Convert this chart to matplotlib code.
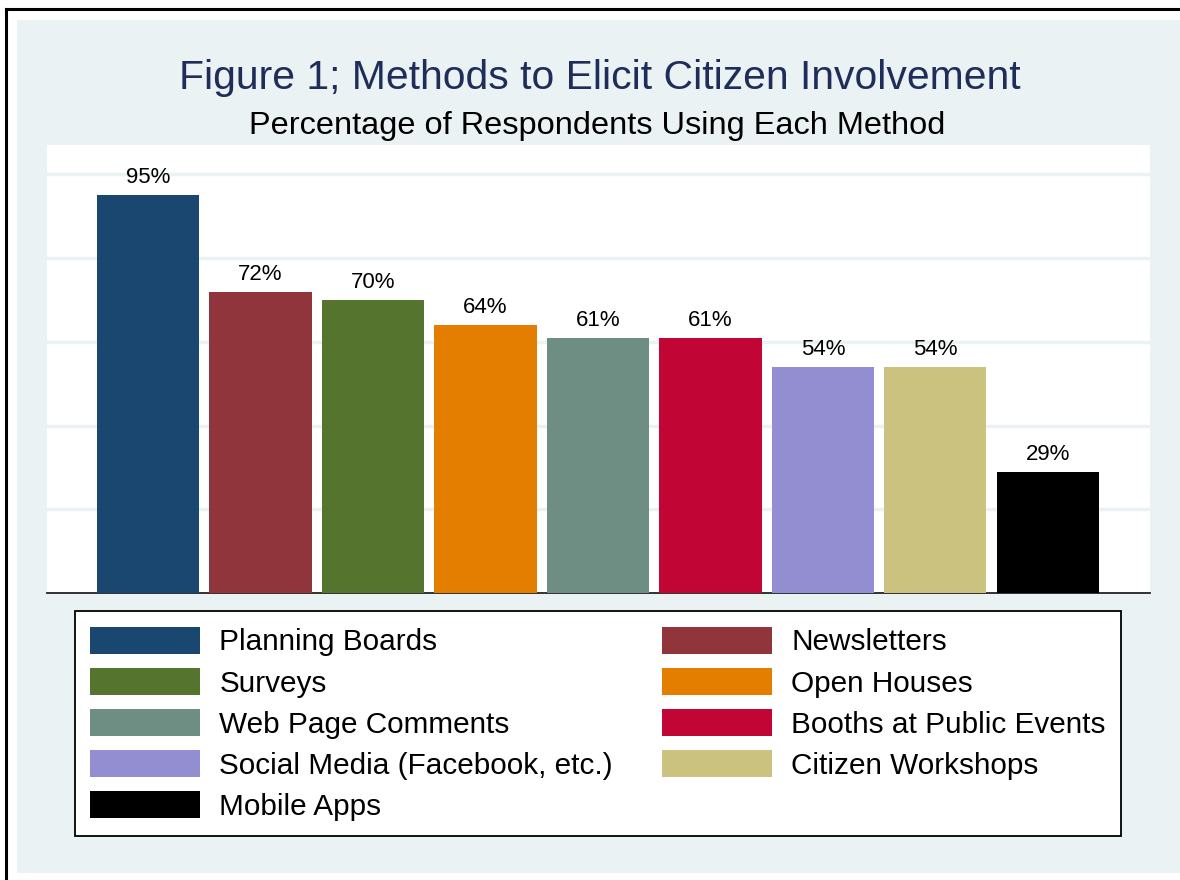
import numpy as np
import matplotlib
matplotlib.use("Agg")
import matplotlib.pyplot as plt
from matplotlib.patches import Rectangle
from matplotlib.lines import Line2D

plt.rcParams['font.family'] = ['Liberation Sans', 'DejaVu Sans']

# data
methods = ['Planning Boards', 'Newsletters', 'Surveys', 'Open Houses',
           'Web Page Comments', 'Booths at Public Events',
           'Social Media (Facebook, etc.)', 'Citizen Workshops', 'Mobile Apps']
pct = [95, 72, 70, 64, 61, 61, 54, 54, 29]
colors = ['#1a476f', '#90353b', '#55752f', '#e37e00', '#6e8e84',
          '#c10534', '#938dd2', '#cac27e', '#000000']

W, H = 1180, 880
bg = '#eaf2f3'

fig = plt.figure(figsize=(W / 100, H / 100), dpi=100)
fig.patch.set_facecolor('white')

# outer frame (top + left visible) and graph region
fig.add_artist(Line2D([6 / W, 6 / W], [0, 1 - 9 / H], color='black', lw=2.2,
                      transform=fig.transFigure))
fig.add_artist(Line2D([6 / W, 1], [1 - 9 / H, 1 - 9 / H], color='black', lw=2.2,
                      transform=fig.transFigure))
fig.add_artist(Rectangle((17 / W, 1 - 873 / H), 1, (873 - 20) / H,
                         facecolor=bg, edgecolor='none', transform=fig.transFigure,
                         zorder=-1))

ax = fig.add_axes([47 / W, 1 - 593 / H, (1150 - 47) / W, (593 - 145) / H])
ax.set_facecolor('white')

x = np.arange(len(pct))
bars = []
for i in range(len(pct)):
    b = ax.bar(x[i], pct[i], width=0.907, color=colors[i], label=methods[i], zorder=3)
    bars.append(b)
    ax.bar_label(b, labels=[f'{pct[i]}%'], padding=5, fontsize=16, zorder=4)

ax.set_xlim(-0.898, 8.907)
ax.set_ylim(0, 107)
ax.set_yticks([20, 40, 60, 80, 100])
ax.yaxis.grid(True, color=bg, linewidth=2.5, zorder=0)
ax.set_axisbelow(True)
ax.tick_params(left=False, bottom=False, labelleft=False, labelbottom=False)
ax.set_xticks([])
for s in ['left', 'top', 'right']:
    ax.spines[s].set_visible(False)
ax.spines['bottom'].set_color('#222222')
ax.spines['bottom'].set_linewidth(1.3)

# titles
fig.text(600 / W, 1 - 89 / H, 'Figure 1; Methods to Elicit Citizen Involvement',
         ha='center', va='baseline', fontsize=29.4, color='#1f2d5a')
fig.text(597 / W, 1 - 134 / H, 'Percentage of Respondents Using Each Method',
         ha='center', va='baseline', fontsize=23.4, color='black')

# legend, filled row-wise in two columns
order = [0, 2, 4, 6, 8, 1, 3, 5, 7]
handles = [bars[i][0] for i in order]
labels = [methods[i] for i in order]
leg = fig.legend(handles, labels, ncol=2, loc='upper left',
                 bbox_to_anchor=(75 / W, 1 - 612 / H, (1121 - 75) / W, 0.001),
                 mode='expand', fontsize=21.4, frameon=True, fancybox=False,
                 edgecolor='black', facecolor='white', framealpha=1,
                 handlelength=3.7, handleheight=1.04, handletextpad=0.64,
                 labelspacing=0.38, borderpad=0.52, borderaxespad=0,
                 columnspacing=1.8)
leg.get_frame().set_linewidth(1.3)

fig.savefig('out.png', dpi=100, facecolor=fig.get_facecolor())
